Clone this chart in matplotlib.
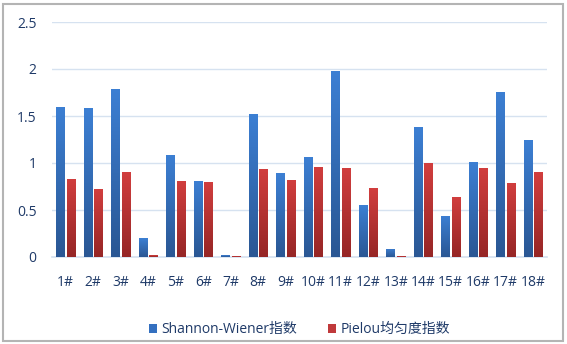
import numpy as np
import matplotlib
matplotlib.use('Agg')
import matplotlib.pyplot as plt
from matplotlib.colors import LinearSegmentedColormap
from matplotlib.patches import Rectangle

plt.rcParams['font.family'] = ['Open Sans', 'Noto Sans CJK SC', 'DejaVu Sans']

sites = [f'{i}#' for i in range(1, 19)]
shannon = [1.60, 1.58, 1.79, 0.20, 1.09, 0.81, 0.02, 1.52, 0.89,
           1.06, 1.98, 0.55, 0.09, 1.38, 0.44, 1.01, 1.76, 1.25]
pielou = [0.83, 0.72, 0.90, 0.02, 0.81, 0.80, 0.01, 0.94, 0.82,
          0.96, 0.95, 0.73, 0.01, 1.00, 0.64, 0.95, 0.79, 0.90]
labels = ['Shannon-Wiener指数', 'Pielou均匀度指数']

fig = plt.figure(figsize=(5.67, 3.44), dpi=100)
ax = fig.add_axes([52 / 567, 1 - 257 / 344, 495 / 567, 235 / 344])

x = np.arange(len(sites))
w = 0.32
off = 0.19

blue_cmap = LinearSegmentedColormap.from_list('b', ['#2A5794', '#3C7FD3'])
red_cmap = LinearSegmentedColormap.from_list('r', ['#962626', '#D13E3E'])
grad = np.linspace(0, 1, 64).reshape(-1, 1)

b1 = ax.bar(x - off, shannon, w, color='#3470C0', label=labels[0], zorder=2)
b2 = ax.bar(x + off, pielou, w, color='#C0393B', label=labels[1], zorder=2)

# vertical gradient fill on each bar
for bars, cmap in ((b1, blue_cmap), (b2, red_cmap)):
    for b in bars:
        bx, by = b.get_x(), b.get_y()
        bw, bh = b.get_width(), b.get_height()
        if bh <= 0:
            continue
        im = ax.imshow(grad, cmap=cmap, aspect='auto', origin='lower',
                       extent=(bx, bx + bw, by, by + bh), zorder=3)
        im.set_clip_path(b)

ax.set_xlim(-0.5, len(sites) - 0.5)
ax.set_ylim(0, 2.5)
ax.set_yticks([0, 0.5, 1, 1.5, 2, 2.5])
ax.set_yticklabels(['0', '0.5', '1', '1.5', '2', '2.5'])
ax.set_xticks(x)
ax.set_xticklabels(sites)

ax.grid(axis='y', color='#D6E2F0', linewidth=1, zorder=0)
for s in ['top', 'right', 'left']:
    ax.spines[s].set_visible(False)
ax.spines['bottom'].set_color('#D6E2F0')
ax.spines['bottom'].set_linewidth(1.2)
ax.tick_params(axis='both', length=0, colors='#1F3A68', labelsize=10)
ax.tick_params(axis='x', pad=13)
ax.tick_params(axis='y', pad=11)

ax.legend(loc='center', bbox_to_anchor=(0.5, -0.31), ncol=2, frameon=False,
          fontsize=10, handlelength=0.6, handleheight=0.6, handletextpad=0.3,
          columnspacing=2.2, labelcolor='#1F3A68')

# outer frame
fig.patches.append(Rectangle((3 / 567, 3 / 344), 560 / 567, 337 / 344,
                             transform=fig.transFigure, fill=False,
                             edgecolor='#B4B4B4', linewidth=1.5))

fig.savefig('out.png', dpi=100)
